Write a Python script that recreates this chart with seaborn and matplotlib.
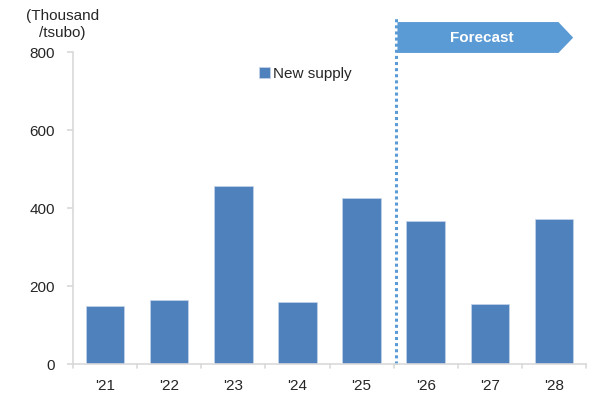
import matplotlib
matplotlib.use("Agg")
import matplotlib.pyplot as plt
import matplotlib.transforms as mtransforms
from matplotlib.patches import Polygon
import seaborn as sns
import pandas as pd

years = ["'21", "'22", "'23", "'24", "'25", "'26", "'27", "'28"]
new_supply = [150, 165, 456, 160, 426, 366, 155, 371]
y_ticks = [0, 200, 400, 600, 800]

sns.set_theme(style="white")
plt.rcParams['font.family'] = ['Liberation Sans', 'DejaVu Sans']

df = pd.DataFrame({"year": years, "supply": new_supply})

fig = plt.figure(figsize=(5.93, 3.94), dpi=100)
ax = fig.add_axes([73/593, 30/394, 513/593, 312/394])

sns.barplot(data=df, x="year", y="supply", color="#4f81bd", width=0.6,
            saturation=1, ax=ax, label="New supply", edgecolor="#c6d5ea", linewidth=0.5)

ax.set_ylim(0, 800)
ax.set_xlim(-0.5, 7.5)
ax.set_yticks(y_ticks)
ax.set_xlabel("")
ax.set_ylabel("")
for s in ["top", "right"]:
    ax.spines[s].set_visible(False)
for s in ["left", "bottom"]:
    ax.spines[s].set_color("#d9d9d9")
    ax.spines[s].set_linewidth(1.2)
ax.tick_params(axis="y", which="both", left=True, length=4, color="#d9d9d9", labelsize=11, pad=9)
ax.tick_params(axis="x", which="both", bottom=False, labelsize=11, pad=5)

trans = mtransforms.blended_transform_factory(ax.transData, ax.transAxes)
# category boundary ticks on x axis
for b in [i - 0.5 for i in range(len(years) + 1)]:
    ax.plot([b, b], [0, -0.012], transform=trans, color="#d9d9d9", lw=1.2, clip_on=False)

ax.plot([4.54, 4.54], [0, 1.108], transform=trans, color="#5b9bd5", lw=2.2,
        linestyle=(0, (1, 1)), clip_on=False)

arrow = Polygon([[4.56, 1.096], [7.07, 1.096], [7.30, 1.046], [7.07, 0.997], [4.56, 0.997]],
                closed=True, transform=trans, facecolor="#5b9bd5", edgecolor="none", clip_on=False)
ax.add_patch(arrow)
ax.text(5.88, 1.046, "Forecast", transform=trans, color="white", fontsize=11,
        fontweight="bold", ha="center", va="center")

ax.text(-0.67, 1.04, "(Thousand\n/tsubo)", transform=trans, ha="center", va="bottom",
        fontsize=11, linespacing=1.2)

ax.legend(loc="upper left", bbox_to_anchor=(251/593, 1 - 59/394), bbox_transform=fig.transFigure,
          frameon=False, handlelength=0.75, handleheight=0.75, handletextpad=0.2, fontsize=11,
          borderpad=0)

fig.savefig("out.png", dpi=100)
